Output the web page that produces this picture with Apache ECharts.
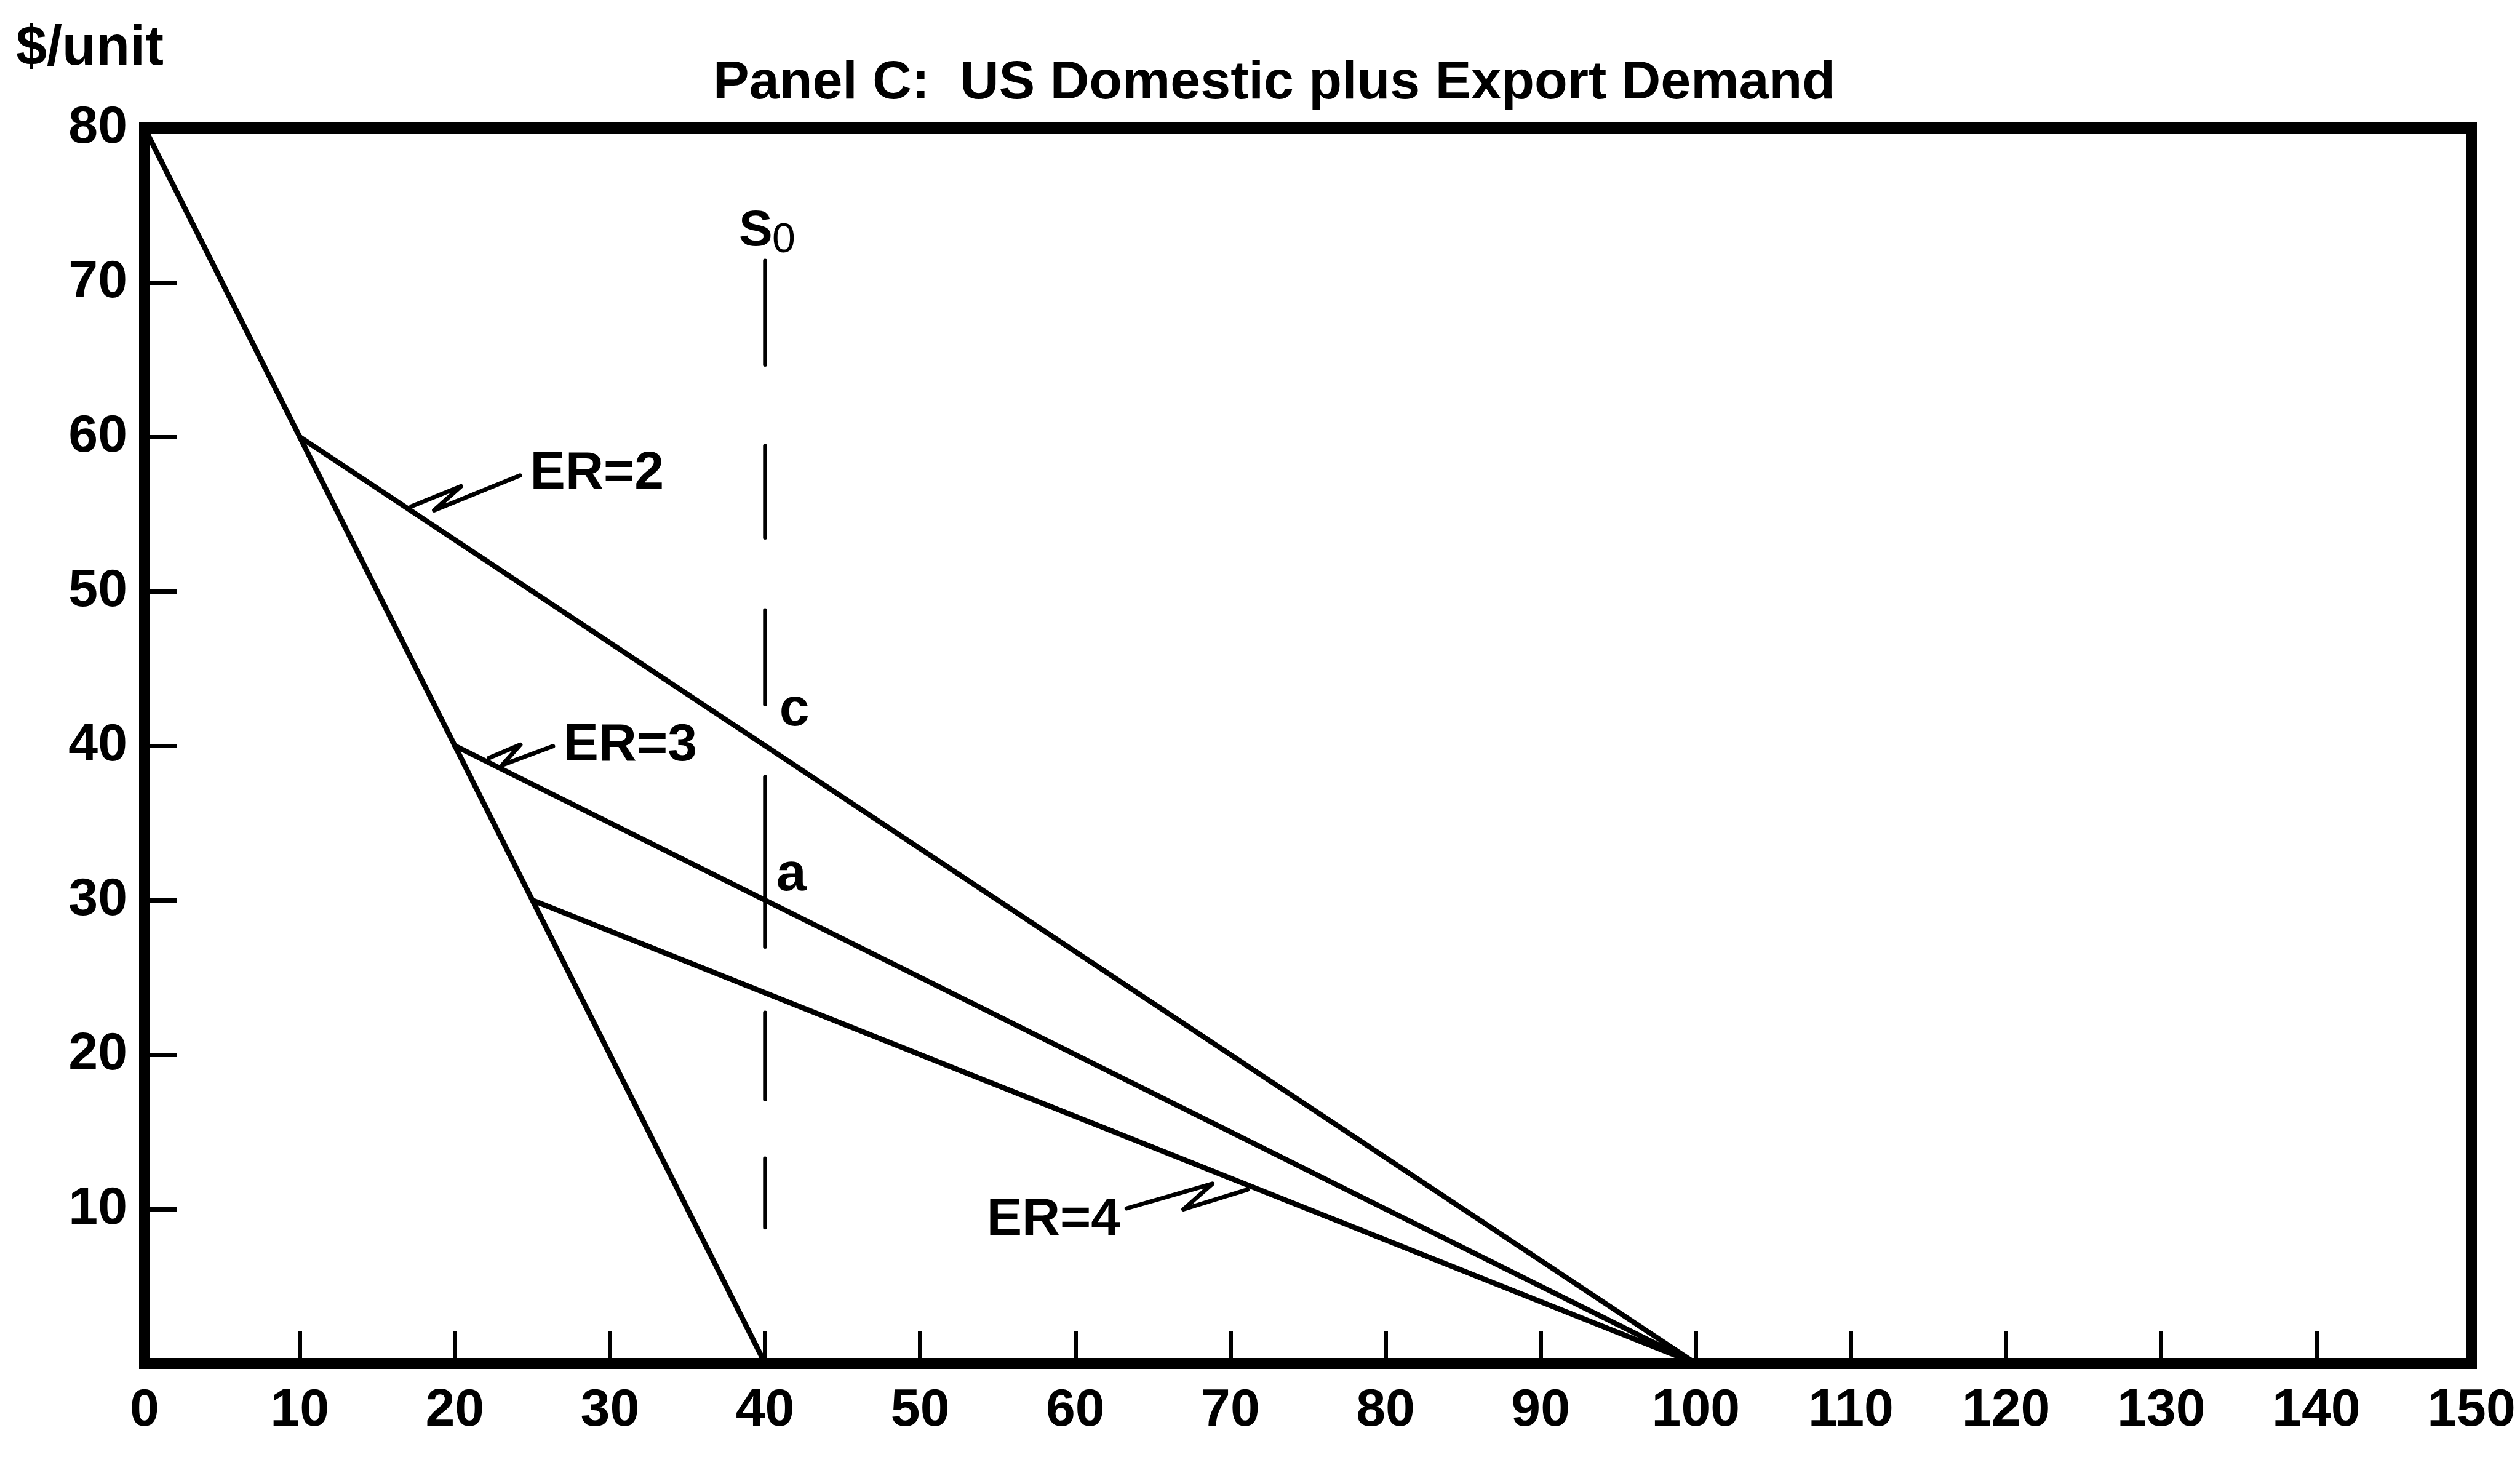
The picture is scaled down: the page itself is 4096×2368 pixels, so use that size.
<!DOCTYPE html>
<html>
<head>
<meta charset="utf-8">
<script src="https://cdn.jsdelivr.net/npm/echarts@6.0.0/dist/echarts.min.js"></script>
<style>
  html, body { margin: 0; padding: 0; background: #fff; }
  #chart { width: 4096px; height: 2368px; }
</style>
</head>
<body>
<div id="chart"></div>
<script>
// axes
const xMin = 0, xMax = 150, xStep = 10;
const yMin = 0, yMax = 80, yStep = 10;

// demand curves (quantity, $/unit)
const domesticDemand = [[0, 80], [40, 0]];
const demandER2 = [[10, 60], [100, 0]];
const demandER3 = [[20, 40], [100, 0]];
const demandER4 = [[25, 30], [100, 0]];
// supply S0, vertical at 40 (drawn dashed)
const supplyS0 = [[40, 71.4], [40, 8.8]];

// zigzag pointers, from the label end to the curve
const leaderER2 = [[24.2, 57.5], [18.66, 55.24], [20.4, 56.8], [17.2, 55.5]];
const leaderER3 = [[26.33, 39.97], [23.06, 38.75], [24.23, 40.07], [22.2, 39.2]];
const leaderER4 = [[63.31, 10.04], [68.84, 11.64], [66.97, 9.98], [71.1, 11.26]];

// text annotations
const leftLabels = [
  { name: 'ER=2', value: [24.83, 57.6] },
  { name: 'ER=3', value: [26.97, 40.0] }
];
const pointLabels = [
  { name: 'c', value: [40.9, 42.3] },
  { name: 'a', value: [40.7, 31.6] }
];
const rightLabels = [
  { name: 'ER=4', value: [62.93, 9.27] }
];
const supplyName = [{ name: 'S', value: [39.4, 73.3] }];
const supplySub = [{ name: '0', value: [41.2, 72.7] }];

const font = "'Liberation Sans', Arial, Helvetica, sans-serif";

var myChart = echarts.init(document.getElementById('chart'));

function curve(data, width, type) {
  return {
    type: 'line',
    data: data,
    symbol: 'none',
    silent: true,
    z: 3,
    lineStyle: { color: '#000', width: width, type: type || 'solid', cap: 'round', join: 'round' }
  };
}

function textSeries(data, position, size, weight) {
  return {
    type: 'scatter',
    data: data,
    symbolSize: 1,
    silent: true,
    z: 4,
    itemStyle: { color: 'rgba(0,0,0,0)', opacity: 1 },
    label: {
      show: true,
      position: position,
      distance: 0,
      formatter: '{b}',
      color: '#000',
      opacity: 1,
      fontFamily: font,
      fontWeight: weight || 'bold',
      fontSize: size
    }
  };
}

var option = {
  animation: false,
  backgroundColor: '#fff',
  graphic: [
    {
      type: 'text',
      x: 2071, y: 136,
      style: {
        text: 'Panel C:  US Domestic plus Export Demand',
        align: 'center', verticalAlign: 'middle',
        fontFamily: font, fontWeight: 'bold', fontSize: 88, fill: '#000'
      }
    },
    {
      type: 'text',
      x: 26, y: 80,
      style: {
        text: '$/unit',
        align: 'left', verticalAlign: 'middle',
        fontFamily: font, fontWeight: 'bold', fontSize: 90, fill: '#000'
      }
    }
  ],
  grid: {
    left: 235, right: 79, top: 208, bottom: 152,
    show: true,
    borderColor: '#000',
    borderWidth: 18,
    backgroundColor: 'transparent'
  },
  xAxis: {
    type: 'value',
    min: xMin, max: xMax, interval: xStep,
    axisLine: { show: false },
    splitLine: { show: false },
    axisTick: { show: true, inside: true, length: 52, lineStyle: { color: '#000', width: 7 } },
    axisLabel: {
      margin: 34, color: '#000',
      fontFamily: font, fontWeight: 'bold', fontSize: 86
    }
  },
  yAxis: {
    type: 'value',
    min: yMin, max: yMax, interval: yStep,
    axisLine: { show: false },
    splitLine: { show: false },
    axisTick: { show: true, inside: true, length: 53, lineStyle: { color: '#000', width: 7 } },
    axisLabel: {
      margin: 28, color: '#000',
      fontFamily: font, fontWeight: 'bold', fontSize: 86,
      formatter: function (v) { return v === 0 ? '' : String(v); }
    }
  },
  series: [
    curve(domesticDemand, 8.5),
    curve(demandER2, 8.5),
    curve(demandER3, 8.5),
    curve(demandER4, 8.5),
    curve(supplyS0, 6.5, [169, 132, 149, 118, 153, 118, 276, 107, 141, 96, 113, 300]),
    curve(leaderER2, 7),
    curve(leaderER3, 7),
    curve(leaderER4, 7),
    textSeries(leftLabels, 'right', 86),
    textSeries(pointLabels, 'right', 88),
    textSeries(rightLabels, 'left', 86),
    textSeries(supplyName, 'inside', 82),
    textSeries(supplySub, 'inside', 68, 'normal')
  ]
};

myChart.setOption(option);
</script>
</body>
</html>
